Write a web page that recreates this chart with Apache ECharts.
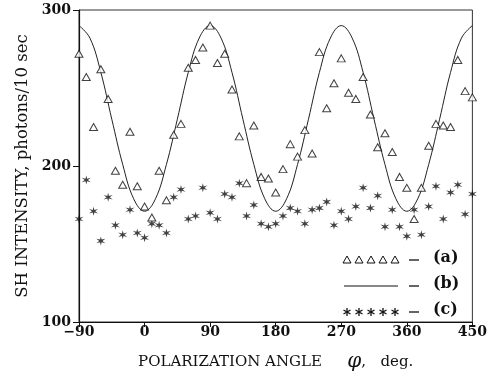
<!DOCTYPE html>
<html>
<head>
<meta charset="utf-8">
<script src="https://cdn.jsdelivr.net/npm/echarts@6/dist/echarts.min.js"></script>
<style>
  html, body { margin: 0; padding: 0; background: #fff; }
  #chart { width: 490px; height: 377px; }
</style>
</head>
<body>
<div id="chart"></div>
<script>
// polarization angle, degrees (measured points every 10 deg)
const angles = [-90, -80, -70, -60, -50, -40, -30, -20, -10, 0, 10, 20, 30, 40, 50, 60, 70, 80, 90,
  100, 110, 120, 130, 140, 150, 160, 170, 180, 190, 200, 210, 220, 230, 240, 250, 260, 270,
  280, 290, 300, 310, 320, 330, 340, 350, 360, 370, 380, 390, 400, 410, 420, 430, 440, 450]

// (a) triangles
const seriesA = [272, 257, 225, 262, 243, 197, 188, 222, 187, 174, 167, 197, 178, 220, 227, 263, 268, 276, 290,
  266, 272, 249, 219, 189, 226, 193, 192, 183, 198, 214, 206, 223, 208, 273, 237, 253, 269,
  247, 243, 257, 233, 212, 221, 209, 193, 186, 166, 186, 213, 227, 226, 225, 268, 248, 244]

// (c) asterisks
const seriesC = [166, 191, 171, 152, 180, 162, 156, 172, 157, 154, 163, 162, 157, 180, 185, 166, 168, 186, 170,
  166, 182, 180, 189, 168, 175, 163, 161, 163, 168, 173, 171, 163, 172, 173, 177, 162, 171,
  166, 174, 186, 173, 181, 161, 172, 161, 155, 172, 156, 174, 187, 166, 183, 188, 169, 182]

// (b) fitted curve, read every 15 deg
const fitAngles = [-90, -75, -60, -45, -30, -15, 0, 15, 30, 45, 60, 75, 90, 105, 120, 135, 150, 165, 180,
  195, 210, 225, 240, 255, 270, 285, 300, 315, 330, 345, 360, 375, 390, 405, 420, 435, 450]
const seriesB = [290, 282, 260, 230, 201, 179, 171, 179, 201, 230, 260, 282, 290, 282, 260, 230, 201, 179, 171,
  179, 201, 230, 260, 282, 290, 282, 260, 230, 201, 179, 171, 179, 201, 230, 260, 282, 290]

const xTicks = [-90, 0, 90, 180, 270, 360, 450]
const yTicks = [100, 200, 300]
const legendLabels = ["(a)", "(b)", "(c)"]

// six-armed asterisk
const asterisk = "path://M50 0L58 36L93.3 25L66 50L93.3 75L58 64L50 100L42 64L6.7 75L34 50L6.7 25L42 36Z"
const serif = "DejaVu Serif"

// legend marks, drawn by hand like the original key
const keyX = [347, 359, 371, 383, 395]
const keyY = [260, 286, 312]
const keyGraphics = []
keyX.forEach((x) => {
  keyGraphics.push({
    type: "polygon",
    shape: { points: [[x, keyY[0] - 4], [x + 4, keyY[0] + 3], [x - 4, keyY[0] + 3]] },
    style: { fill: "#fff", stroke: "#111", lineWidth: 1 },
  })
  const y = keyY[2]
  ;[[0, -4, 0, 4], [-3.5, -2, 3.5, 2], [-3.5, 2, 3.5, -2]].forEach(([a, b, c, d]) => {
    keyGraphics.push({
      type: "line",
      shape: { x1: x + a, y1: y + b, x2: x + c, y2: y + d },
      style: { stroke: "#111", lineWidth: 1.3 },
    })
  })
})
keyGraphics.push({ type: "line", shape: { x1: 344, y1: keyY[1], x2: 398, y2: keyY[1] }, style: { stroke: "#111", lineWidth: 1 } })
legendLabels.forEach((t, i) => {
  keyGraphics.push({ type: "line", shape: { x1: 409, y1: keyY[i], x2: 419, y2: keyY[i] }, style: { stroke: "#111", lineWidth: 1.3 } })
  keyGraphics.push({
    type: "text", left: 433, top: keyY[i] - 10,
    style: { text: t, font: "bold 16px 'DejaVu Serif'", fill: "#111" },
  })
})

const chart = echarts.init(document.getElementById("chart"))

chart.setOption({
  animation: false,
  backgroundColor: "#fff",
  grid: { left: 79, right: 11, top: 10, bottom: 52, show: true, borderColor: "#333", borderWidth: 1 },
  xAxis: {
    type: "value",
    min: xTicks[0],
    max: xTicks[xTicks.length - 1],
    interval: 90,
    axisLine: { onZero: false, lineStyle: { color: "#111", width: 1.2 } },
    axisTick: { inside: false, length: 5, lineStyle: { color: "#111" } },
    axisLabel: {
      margin: 3,
      color: "#111",
      fontFamily: serif,
      fontWeight: "bold",
      fontSize: 14,
      formatter: (v) => (v < 0 ? "\u2212" + Math.abs(v) : String(v)),
    },
    splitLine: { show: false },
    name: "{t|POLARIZATION ANGLE}{p|    \u03C6}{t|,   deg.}",
    nameLocation: "middle",
    nameGap: 30,
    nameTextStyle: {
      rich: {
        t: { fontFamily: serif, fontSize: 15, color: "#111" },
        p: { fontFamily: serif, fontStyle: "italic", fontSize: 20, color: "#111" },
      },
    },
  },
  yAxis: {
    type: "value",
    min: yTicks[0],
    max: yTicks[yTicks.length - 1],
    interval: 100,
    axisLine: { show: true, onZero: false, lineStyle: { color: "#111", width: 1.2 } },
    axisTick: { show: true, inside: false, length: 6, lineStyle: { color: "#111" } },
    axisLabel: { margin: 8, color: "#111", fontFamily: serif, fontWeight: "bold", fontSize: 14 },
    splitLine: { show: false },
    name: "SH INTENSITY, photons/10 sec",
    nameLocation: "middle",
    nameGap: 48,
    nameTextStyle: { fontFamily: serif, fontSize: 16.5, color: "#111" },
  },
  graphic: keyGraphics,
  series: [
    {
      name: "(b)",
      type: "line",
      data: fitAngles.map((a, i) => [a, seriesB[i]]),
      smooth: 0.4,
      showSymbol: false,
      lineStyle: { color: "#222", width: 1 },
      z: 1,
    },
    {
      name: "(a)",
      type: "scatter",
      data: angles.map((a, i) => [a, seriesA[i]]),
      symbol: "triangle",
      symbolSize: [8, 7],
      itemStyle: { color: "#fff", borderColor: "#111", borderWidth: 1 },
      z: 3,
    },
    {
      name: "(c)",
      type: "scatter",
      data: angles.map((a, i) => [a, seriesC[i]]),
      symbol: asterisk,
      symbolSize: 9,
      itemStyle: { color: "#111" },
      z: 2,
    },
  ],
})
</script>
</body>
</html>
